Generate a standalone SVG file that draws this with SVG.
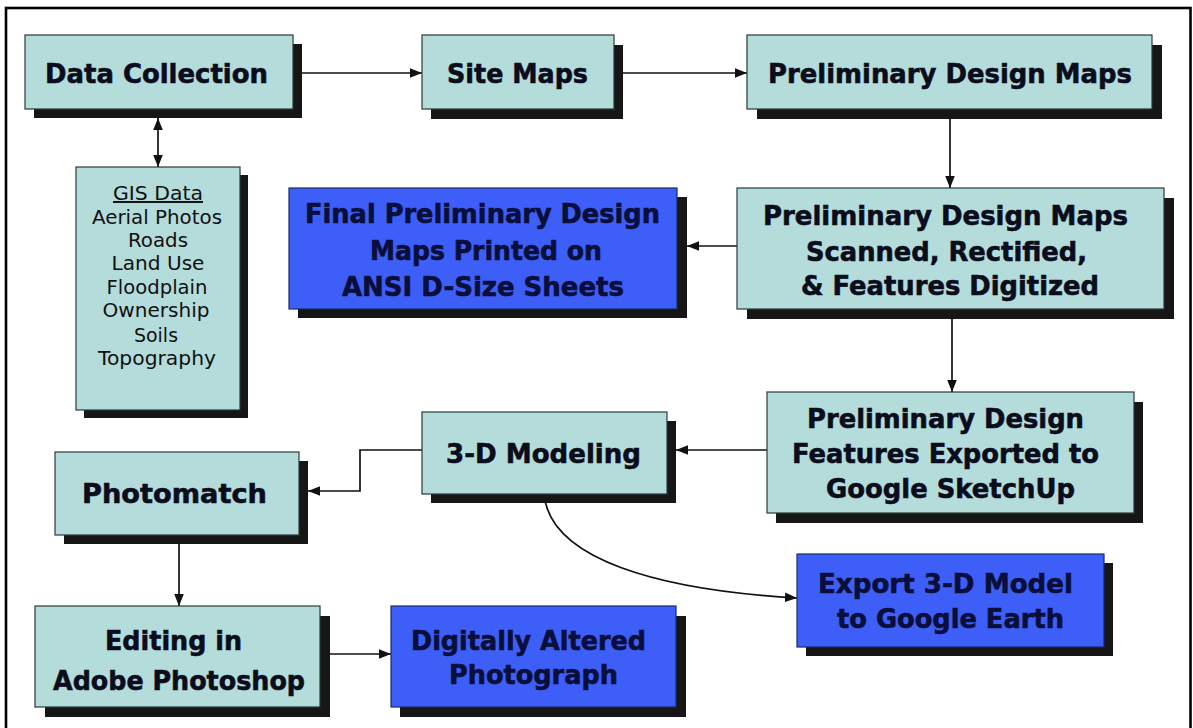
<svg xmlns="http://www.w3.org/2000/svg" width="1193" height="728" viewBox="0 0 1193 728">
<defs>
<marker id="ah" viewBox="0 0 10 8" refX="10" refY="4" markerWidth="12" markerHeight="10" markerUnits="userSpaceOnUse" orient="auto"><path d="M0,0 L10,4 L0,8 Z" fill="#111"/></marker>
<marker id="as" viewBox="0 0 10 8" refX="0" refY="4" markerWidth="12" markerHeight="10" markerUnits="userSpaceOnUse" orient="auto"><path d="M10,0 L0,4 L10,8 Z" fill="#111"/></marker>
</defs>
<style>
.sh{fill:#161616}
.bx{fill:#b4dcdb;stroke:#2a3a3a;stroke-width:1.2}
.bl{fill:#3d5ff7;stroke:#1a2a6a;stroke-width:1.2}
.t{font-family:"DejaVu Sans",Verdana,sans-serif;font-weight:bold;font-size:27px;fill:#0b0d1c;stroke:#0b0d1c;stroke-width:0.6}
.tb{font-family:"DejaVu Sans",Verdana,sans-serif;font-weight:bold;font-size:26px;fill:#0a0e3a;stroke:#0a0e3a;stroke-width:0.6}
.g{font-family:"DejaVu Sans",Verdana,sans-serif;font-size:19.5px;fill:#111}
.c{fill:none;stroke:#111;stroke-width:1.7}
</style>
<rect x="0" y="0" width="1193" height="728" fill="#fff"/>
<rect x="6" y="8" width="1184.5" height="730" fill="none" stroke="#000" stroke-width="2.6"/>

<g id="connectors">
<path class="c" d="M302,73 L422,73" marker-end="url(#ah)"/>
<path class="c" d="M623,73 L747,73" marker-end="url(#ah)"/>
<path class="c" d="M950,119 L950,188" marker-end="url(#ah)"/>
<path class="c" d="M737,246 L687,246" marker-end="url(#ah)"/>
<path class="c" d="M952,319 L952,392" marker-end="url(#ah)"/>
<path class="c" d="M767,450 L676,450" marker-end="url(#ah)"/>
<path class="c" d="M422,450 L360,450 L360,491 L308,491" marker-end="url(#ah)"/>
<path class="c" d="M179,544 L179,606" marker-end="url(#ah)"/>
<path class="c" d="M330,654 L391,654" marker-end="url(#ah)"/>
<path class="c" d="M544,494 C550,560 660,590 797,598" marker-end="url(#ah)"/>
<path class="c" d="M158,118 L158,167" marker-start="url(#as)" marker-end="url(#ah)"/>
</g>

<g id="data-collection">
<rect class="sh" x="34" y="44" width="268" height="74"/>
<rect class="bx" x="25" y="35" width="268" height="74"/>
<text class="t" x="45" y="83" textLength="223" lengthAdjust="spacingAndGlyphs">Data Collection</text>
</g>

<g id="gis-data">
<rect class="sh" x="84" y="175" width="164" height="243"/>
<rect class="bx" x="76" y="167" width="164" height="243"/>
<g class="g" text-anchor="middle">
<text x="158" y="200" textLength="90" lengthAdjust="spacingAndGlyphs" text-decoration="underline">GIS Data</text>
<text x="157" y="224" textLength="130" lengthAdjust="spacingAndGlyphs">Aerial Photos</text>
<text x="158" y="247" textLength="60" lengthAdjust="spacingAndGlyphs">Roads</text>
<text x="158" y="270" textLength="93" lengthAdjust="spacingAndGlyphs">Land Use</text>
<text x="157" y="294" textLength="101" lengthAdjust="spacingAndGlyphs">Floodplain</text>
<text x="156" y="317" textLength="107" lengthAdjust="spacingAndGlyphs">Ownership</text>
<text x="156" y="342" textLength="44" lengthAdjust="spacingAndGlyphs">Soils</text>
<text x="157" y="365" textLength="118" lengthAdjust="spacingAndGlyphs">Topography</text>
</g>
</g>

<g id="site-maps">
<rect class="sh" x="431" y="45" width="192" height="74"/>
<rect class="bx" x="422" y="35" width="192" height="74"/>
<text class="t" x="447" y="83" textLength="141" lengthAdjust="spacingAndGlyphs">Site Maps</text>
</g>

<g id="prelim-maps">
<rect class="sh" x="757" y="45" width="405" height="74"/>
<rect class="bx" x="747" y="35" width="405" height="74"/>
<text class="t" x="768" y="83" textLength="364" lengthAdjust="spacingAndGlyphs">Preliminary Design Maps</text>
</g>

<g id="prelim-scanned">
<rect class="sh" x="747" y="198" width="427" height="121"/>
<rect class="bx" x="737" y="188" width="427" height="121"/>
<text class="t" x="763" y="225" textLength="365" lengthAdjust="spacingAndGlyphs">Preliminary Design Maps</text>
<text class="t" x="806" y="261" textLength="281" lengthAdjust="spacingAndGlyphs">Scanned, Rectified,</text>
<text class="t" x="801" y="295" textLength="298" lengthAdjust="spacingAndGlyphs">&amp; Features Digitized</text>
</g>

<g id="final-prelim">
<rect class="sh" x="298" y="197" width="389" height="121"/>
<rect class="bl" x="289" y="188" width="388" height="121"/>
<text class="tb" x="305" y="223" textLength="355" lengthAdjust="spacingAndGlyphs">Final Preliminary Design</text>
<text class="tb" x="370" y="260" textLength="232" lengthAdjust="spacingAndGlyphs">Maps Printed on</text>
<text class="tb" x="342" y="296" textLength="282" lengthAdjust="spacingAndGlyphs">ANSI D-Size Sheets</text>
</g>

<g id="features-exported">
<rect class="sh" x="776" y="402" width="367" height="121"/>
<rect class="bx" x="767" y="392" width="367" height="121"/>
<text class="t" x="807" y="428" textLength="277" lengthAdjust="spacingAndGlyphs">Preliminary Design</text>
<text class="t" x="792" y="463" textLength="307" lengthAdjust="spacingAndGlyphs">Features Exported to</text>
<text class="t" x="826" y="498" textLength="249" lengthAdjust="spacingAndGlyphs">Google SketchUp</text>
</g>

<g id="modeling-3d">
<rect class="sh" x="431" y="421" width="245" height="82"/>
<rect class="bx" x="422" y="412" width="245" height="82"/>
<text class="t" x="446" y="463" textLength="195" lengthAdjust="spacingAndGlyphs">3-D Modeling</text>
</g>

<g id="export-earth">
<rect class="sh" x="806" y="563" width="307" height="93"/>
<rect class="bl" x="797" y="554" width="307" height="93"/>
<text class="tb" x="818" y="593" textLength="255" lengthAdjust="spacingAndGlyphs">Export 3-D Model</text>
<text class="tb" x="837" y="628" textLength="227" lengthAdjust="spacingAndGlyphs">to Google Earth</text>
</g>

<g id="photomatch">
<rect class="sh" x="64" y="461" width="244" height="83"/>
<rect class="bx" x="55" y="452" width="244" height="83"/>
<text class="t" x="82" y="503" textLength="185" lengthAdjust="spacingAndGlyphs">Photomatch</text>
</g>

<g id="editing">
<rect class="sh" x="45" y="616" width="285" height="101"/>
<rect class="bx" x="35" y="606" width="285" height="101"/>
<text class="t" x="105" y="650" textLength="137" lengthAdjust="spacingAndGlyphs">Editing in</text>
<text class="t" x="53" y="690" textLength="252" lengthAdjust="spacingAndGlyphs">Adobe Photoshop</text>
</g>

<g id="digitally-altered">
<rect class="sh" x="400" y="616" width="286" height="101"/>
<rect class="bl" x="391" y="606" width="285" height="101"/>
<text class="tb" x="411" y="650" textLength="235" lengthAdjust="spacingAndGlyphs">Digitally Altered</text>
<text class="tb" x="449" y="684" textLength="169" lengthAdjust="spacingAndGlyphs">Photograph</text>
</g>
</svg>
